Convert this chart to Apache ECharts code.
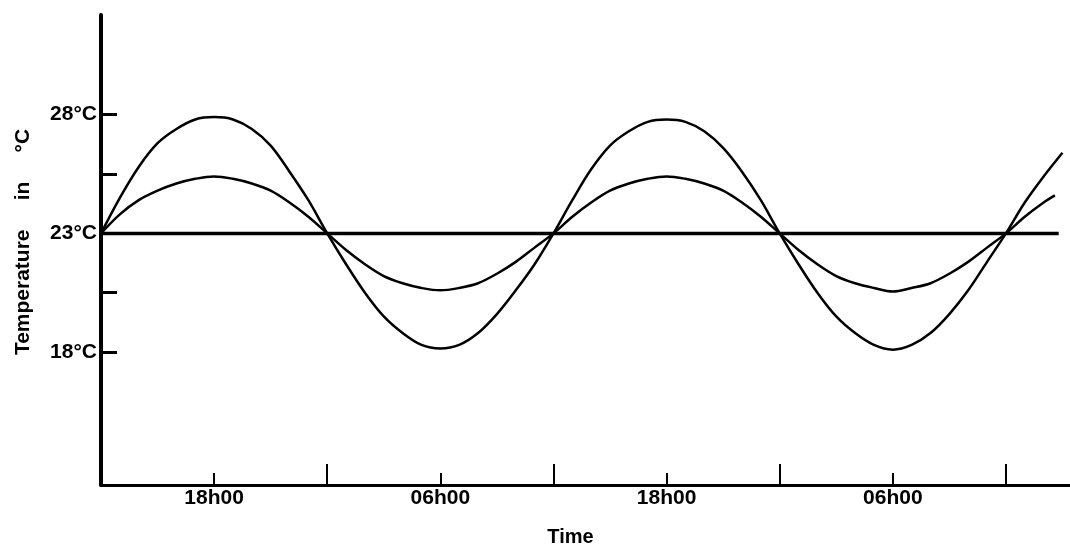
<!DOCTYPE html>
<html>
<head>
<meta charset="utf-8">
<script src="https://cdn.jsdelivr.net/npm/echarts@6/dist/echarts.min.js"></script>
<style>
  html, body { margin: 0; padding: 0; background: #fff; }
  #chart { width: 1070px; height: 545px; }
</style>
</head>
<body>
<div id="chart"></div>
<script>
// hours counted from noon of day one, one reading per hour
const hours = [
  0, 1, 2, 3, 4, 5, 6, 7, 8, 9, 10, 11, 12, 13, 14, 15, 16, 17, 18, 19, 20, 21, 22, 23, 24,
  25, 26, 27, 28, 29, 30, 31, 32, 33, 34, 35, 36, 37, 38, 39, 40, 41, 42, 43, 44, 45, 46, 47, 48, 49, 50
];
const bigSwing = [
  23.0, 24.5, 25.8, 26.8, 27.4, 27.8, 27.9, 27.8, 27.4, 26.7, 25.6, 24.4,
  23.0, 21.7, 20.5, 19.5, 18.8, 18.3, 18.15, 18.3, 18.8, 19.6, 20.6, 21.7,
  23.0, 24.4, 25.7, 26.7, 27.3, 27.7, 27.8, 27.7, 27.3, 26.6, 25.6, 24.4,
  23.0, 21.7, 20.5, 19.5, 18.8, 18.3, 18.1, 18.3, 18.8, 19.6, 20.6, 21.8,
  23.0, 24.3, 25.4
];
const smallSwing = [
  23.0, 23.8, 24.4, 24.8, 25.1, 25.3, 25.4, 25.3, 25.1, 24.8, 24.3, 23.7,
  23.0, 22.3, 21.7, 21.2, 20.9, 20.7, 20.6, 20.7, 20.9, 21.3, 21.8, 22.4,
  23.0, 23.7, 24.3, 24.8, 25.1, 25.3, 25.4, 25.3, 25.1, 24.8, 24.3, 23.7,
  23.0, 22.3, 21.7, 21.2, 20.9, 20.7, 20.55, 20.7, 20.9, 21.3, 21.8, 22.4,
  23.0, 23.7, 24.3
];
const bigEnd = [51, 26.4];
const smallEnd = [50.6, 24.6];
const baseLine = [[0, 23], [50.8, 23]];

const labelHours = [6, 18, 30, 42];
const timeLabels = ["18h00", "06h00", "18h00", "06h00"];
const majorHours = [12, 24, 36, 48];
const tempTicks = [18, 20.5, 23, 25.5, 28];
const tempLabels = [18, 23, 28];

const font = "'Liberation Sans', Arial, sans-serif";

function pairs(vals, end) {
  const out = hours.map((h, i) => [h, vals[i]]);
  out.push(end);
  return out;
}

const chart = echarts.init(document.getElementById("chart"));
chart.setOption({
  animation: false,
  grid: { left: 101, right: 0, top: 15, bottom: 60, outerBoundsMode: "none", containLabel: false },
  xAxis: [
    {
      type: "value",
      position: "bottom",
      min: 0,
      max: 51.4,
      name: "Time",
      nameLocation: "middle",
      nameGap: 42,
      nameTextStyle: { fontFamily: font, fontWeight: "bold", fontSize: 20, color: "#000", padding: [0, 30, 0, 0] },
      axisLine: { lineStyle: { color: "#000", width: 3 } },
      axisTick: { inside: true, length: 12, lineStyle: { color: "#000", width: 2 }, customValues: labelHours },
      axisLabel: {
        customValues: labelHours,
        margin: 3,
        fontFamily: font,
        fontWeight: "bold",
        fontSize: 21,
        color: "#000",
        formatter: (v) => timeLabels[labelHours.indexOf(v)] || "",
      },
      splitLine: { show: false },
    },
    {
      type: "value",
      position: "bottom",
      min: 0,
      max: 51.4,
      axisLine: { show: false },
      axisTick: { inside: true, length: 21, lineStyle: { color: "#000", width: 2 }, customValues: majorHours },
      axisLabel: { show: false },
      splitLine: { show: false },
    },
  ],
  yAxis: {
    type: "value",
    min: 12.4,
    max: 32.2,
    name: "Temperature     in     °C",
    nameLocation: "middle",
    nameGap: 67,
    nameTextStyle: { fontFamily: font, fontWeight: "bold", fontSize: 21, color: "#000", padding: [0, 0, 0, 16] },
    axisLine: { show: true, lineStyle: { color: "#000", width: 4 } },
    axisTick: { show: true, inside: true, length: 16, lineStyle: { color: "#000", width: 3 }, customValues: tempTicks },
    axisLabel: {
      customValues: tempLabels,
      margin: 4,
      fontFamily: font,
      fontWeight: "bold",
      fontSize: 21,
      color: "#000",
      formatter: "{value}°C",
    },
    splitLine: { show: false },
  },
  series: [
    {
      type: "line",
      data: baseLine,
      showSymbol: false,
      lineStyle: { color: "#000", width: 3.5 },
    },
    {
      type: "line",
      smooth: 0.35,
      data: pairs(bigSwing, bigEnd),
      showSymbol: false,
      lineStyle: { color: "#000", width: 2.5 },
    },
    {
      type: "line",
      smooth: 0.35,
      data: pairs(smallSwing, smallEnd),
      showSymbol: false,
      lineStyle: { color: "#000", width: 2.5 },
    },
  ],
});
</script>
</body>
</html>
